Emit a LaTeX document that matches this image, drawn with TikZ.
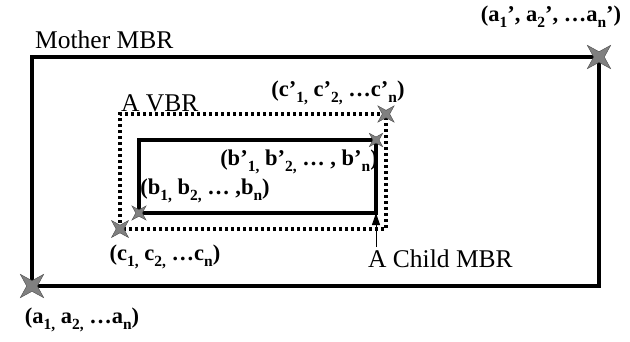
\documentclass[tikz,border=0pt]{standalone}
\usepackage{fontspec}
\setmainfont{Liberation Serif}
\usetikzlibrary{shapes.geometric,arrows.meta}
\newcommand{\lsub}[1]{\raisebox{-0.28em}{\fontsize{15.5}{16}\selectfont #1}}
\tikzset{
  mbr/.style={line width=3.4pt},
  vbr/.style={line width=3.4pt, dash pattern=on 3pt off 3pt},
  pt/.style={star, star points=4, star point ratio=3.1, shape border rotate=45,
    fill=gray, draw=gray!60!black, line width=0.4pt, inner sep=0pt, minimum size=#1},
  plain/.style={font=\fontsize{25.5}{28}\selectfont, inner sep=0pt, anchor=base west},
  coord/.style={font=\fontsize{22.5}{25}\selectfont\bfseries, inner sep=0pt}
}
\begin{document}
\begin{tikzpicture}[x=1pt,y=-1pt]
\useasboundingbox[fill=white] (0,0) rectangle (630,341);
% corners
\coordinate (A) at (32,286);
\coordinate (Ap) at (599,57);
\coordinate (C) at (120,229);
\coordinate (Cp) at (386,114);
\coordinate (B) at (139,213);
\coordinate (Bp) at (376,140);
\coordinate (childBR) at (376,213);
% rectangles
\draw[mbr] (A) rectangle (Ap);
\draw[vbr] (C) rectangle (Cp);
\draw[mbr] (B) rectangle (Bp);
% labels
\node[plain] (mother) at (35,48) {Mother MBR};
\node[plain] (vbr) at (121,111) {A VBR};
\node[plain] (child) at (368,267) {A Child MBR};
\draw[line width=1pt, -{Triangle[length=12pt,width=8pt]}] (child.north -| childBR) ++(0,-2) -- (childBR);
% stars
\node[pt=33pt] (sA) at (A) {};
\node[pt=33pt] (sAp) at (Ap) {};
\node[pt=24pt] (sC) at (C) {};
\node[pt=23pt] (sCp) at (Cp) {};
\node[pt=20pt] (sB) at (B) {};
\node[pt=19pt] (sBp) at (Bp) {};
% coordinate labels
\node[coord] (lA) at (82,320) {(a\lsub{1,} a\lsub{2,} …a\lsub{n})};
\node[coord] (lAp) at (551,17) {(a\lsub{1}’, a\lsub{2}’, …a\lsub{n}’)};
\node[coord] (lC) at (165,257) {(c\lsub{1,} c\lsub{2,} …c\lsub{n})};
\node[coord] (lCp) at (338,93) {(c’\lsub{1,} c’\lsub{2,} …c’\lsub{n})};
\node[coord] (lB) at (205,191) {(b\lsub{1,} b\lsub{2,} … ,b\lsub{n})};
\node[coord] (lBp) at (299,162) {(b’\lsub{1,} b’\lsub{2,} … , b’\lsub{n})};
\end{tikzpicture}
\end{document}
